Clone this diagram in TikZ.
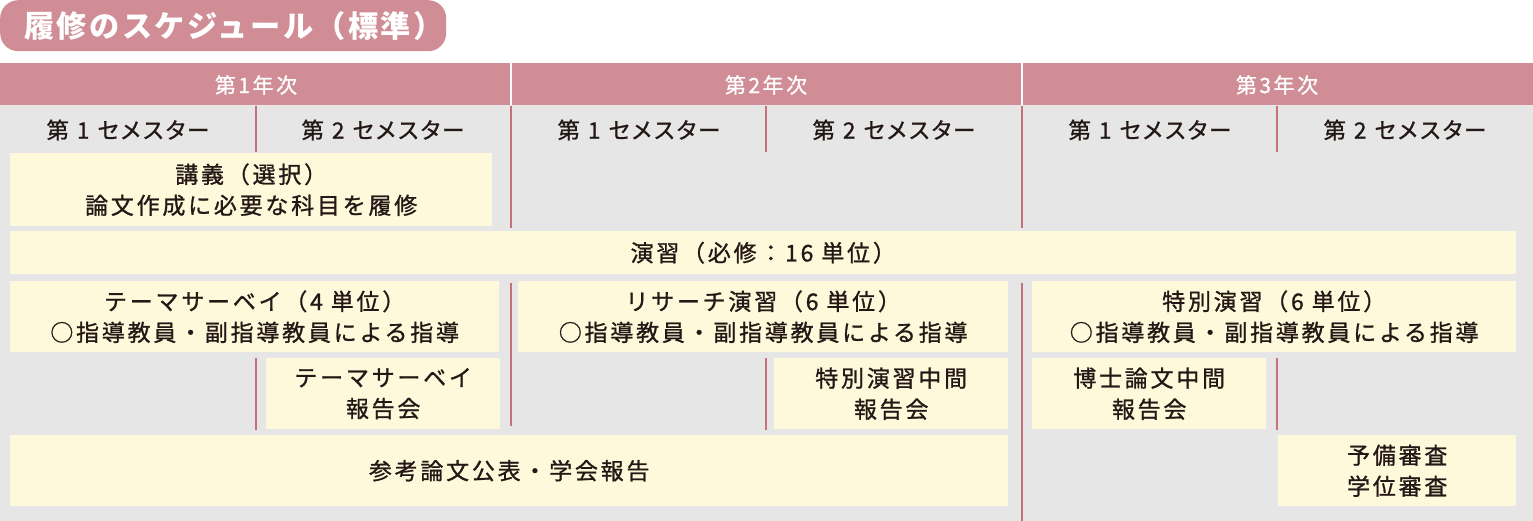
\documentclass[tikz,border=0pt]{standalone}
\usepackage{fontspec}
\newfontfamily\jp{Noto Sans CJK JP}[LetterSpace=12, FakeBold=1]
\newfontfamily\jpk{Noto Sans CJK JP}[FakeBold=1]
\newfontfamily\jpt{Noto Sans CJK JP}[LetterSpace=8]
\definecolor{pinkfill}{HTML}{D08D95}
\definecolor{pinkline}{HTML}{C4717B}
\definecolor{graybg}{HTML}{E6E6E6}
\definecolor{cream}{HTML}{FFF9DB}
\definecolor{ink}{HTML}{231815}
\newcommand{\gp}{\hspace{8pt}}
\tikzset{
  cell/.style={fill=cream, inner sep=0pt, align=center, anchor=north west, text=ink,
    font=\jp\fontsize{23}{31}\selectfont},
  semlabel/.style={inner sep=0pt, text=ink, font=\jpk\fontsize{22.5}{26}\selectfont},
  yearlabel/.style={inner sep=0pt, text=white, font=\jp\fontsize{21}{24}\selectfont},
  sepline/.style={draw=pinkline, line width=2pt},
  whitesep/.style={draw=white, line width=2pt}
}
\begin{document}
\begin{tikzpicture}[x=1pt,y=-1pt]
\useasboundingbox (0,0) rectangle (1533,521);
% title
\node[fill=pinkfill, rounded corners=18pt, minimum width=446pt, minimum height=51pt, anchor=north west, inner sep=0pt] (titlebox) at (0,0) {};
\node[text=white, inner sep=0pt, font=\jpt\bfseries\fontsize{30.2}{32}\selectfont] (title) at (234,26) {履修のスケジュール（標準）};
% background
\fill[graybg] (0,105) rectangle (1533,521);
\fill[pinkfill] (0,63) rectangle (1533,105);
\coordinate (w1t) at (511,63); \coordinate (w1b) at (511,105);
\coordinate (w2t) at (1022,63); \coordinate (w2b) at (1022,105);
\draw[whitesep] (w1t) -- (w1b);
\draw[whitesep] (w2t) -- (w2b);
% year labels
\node[yearlabel] (y1) at (256,85) {第1年次};
\node[yearlabel] (y2) at (766,85) {第2年次};
\node[yearlabel] (y3) at (1277,85) {第3年次};
% semester labels
\node[semlabel] (s1) at (128,130) {第\gp 1\gp セメスター};
\node[semlabel] (s2) at (383,130) {第\gp 2\gp セメスター};
\node[semlabel] (s3) at (639,130) {第\gp 1\gp セメスター};
\node[semlabel] (s4) at (894,130) {第\gp 2\gp セメスター};
\node[semlabel] (s5) at (1150,130) {第\gp 1\gp セメスター};
\node[semlabel] (s6) at (1405,130) {第\gp 2\gp セメスター};
% separator lines
\draw[sepline] (256,106) -- (256,152);
\draw[sepline] (766,106) -- (766,152);
\draw[sepline] (1277,106) -- (1277,152);
\draw[sepline] (511,106) -- (511,228);
\draw[sepline] (1022,106) -- (1022,228);
\draw[sepline] (511,283) -- (511,426);
\draw[sepline] (1022,283) -- (1022,521);
\draw[sepline] (256,358) -- (256,430);
\draw[sepline] (766,358) -- (766,430);
\draw[sepline] (1277,358) -- (1277,430);
% boxes
\node[cell, minimum width=482pt, minimum height=73pt] (kogi) at (10,153) {講義（選択）\\論文作成に必要な科目を履修};
\node[cell, minimum width=1506pt, minimum height=43pt] (enshu) at (10,231) {演習（必修：16 単位）};
\node[cell, minimum width=489pt, minimum height=71pt] (theme) at (10,281) {テーマサーベイ（4 単位）\\○指導教員・副指導教員による指導};
\node[cell, minimum width=490pt, minimum height=71pt] (research) at (518,281) {リサーチ演習（6 単位）\\○指導教員・副指導教員による指導};
\node[cell, minimum width=484pt, minimum height=71pt] (tokubetsu) at (1032,281) {特別演習（6 単位）\\○指導教員・副指導教員による指導};
\node[cell, minimum width=234pt, minimum height=71pt] (themerep) at (266,358) {テーマサーベイ\\報告会};
\node[cell, minimum width=234pt, minimum height=71pt] (tokurep) at (774,358) {特別演習中間\\報告会};
\node[cell, minimum width=234pt, minimum height=71pt] (hakase) at (1032,358) {博士論文中間\\報告会};
\node[cell, minimum width=998pt, minimum height=71pt] (sanko) at (10,435) {参考論文公表・学会報告};
\node[cell, minimum width=238pt, minimum height=71pt] (yobi) at (1278,435) {予備審査\\学位審査};
\end{tikzpicture}
\end{document}
